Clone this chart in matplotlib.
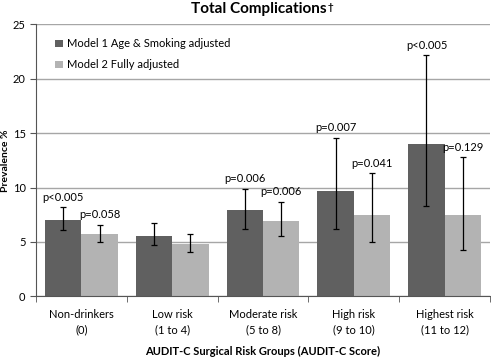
import numpy as np
import matplotlib
matplotlib.use("Agg")
from matplotlib import pyplot as plt

groups = ["Non-drinkers\n(0)", "Low risk\n(1 to 4)", "Moderate risk\n(5 to 8)",
          "High risk\n(9 to 10)", "Highest risk\n(11 to 12)"]
model1 = [7.05, 5.55, 7.9, 9.7, 14.0]
model1_lo = [6.1, 4.7, 6.2, 6.2, 8.3]
model1_hi = [8.2, 6.7, 9.9, 14.6, 22.2]
model2 = [5.7, 4.8, 6.9, 7.45, 7.45]
model2_lo = [5.0, 4.1, 5.5, 5.0, 4.3]
model2_hi = [6.6, 5.7, 8.7, 11.3, 12.8]
p1 = ["p<0.005", "", "p=0.006", "p=0.007", "p<0.005"]
p2 = ["p=0.058", "", "p=0.006", "p=0.041", "p=0.129"]

plt.rcParams["font.family"] = ["Lato", "DejaVu Sans"]

fig = plt.figure(figsize=(4.91, 3.59), dpi=100)
ax = fig.add_axes([0.0733, 0.1747, 0.9247, 0.7573])

x = np.arange(len(groups))
w = 0.4
m1 = np.array(model1)
m2 = np.array(model2)
err1 = [m1 - np.array(model1_lo), np.array(model1_hi) - m1]
err2 = [m2 - np.array(model2_lo), np.array(model2_hi) - m2]

ax.bar(x - w / 2, m1, w, color="#606060", label="Model 1 Age & Smoking adjusted", zorder=2)
ax.bar(x + w / 2, m2, w, color="#b3b3b3", label="Model 2 Fully adjusted", zorder=2)
ax.errorbar(x - w / 2, m1, yerr=err1, fmt="none", ecolor="black", elinewidth=0.9,
            capsize=2.5, capthick=0.9, zorder=3)
ax.errorbar(x + w / 2, m2, yerr=err2, fmt="none", ecolor="black", elinewidth=0.9,
            capsize=2.5, capthick=0.9, zorder=3)

for i in range(len(groups)):
    if p1[i]:
        ax.text(x[i] - w / 2, model1_hi[i] + 0.4, p1[i], ha="center", va="bottom", fontsize=8)
    if p2[i]:
        ax.text(x[i] + w / 2, model2_hi[i] + 0.4, p2[i], ha="center", va="bottom", fontsize=8)

ax.set_xlim(-0.5, len(groups) - 0.5)
ax.set_ylim(0, 25)
ax.set_yticks(range(0, 26, 5))
ax.yaxis.grid(True, color="#a6a6a6", linewidth=1)
ax.set_axisbelow(True)
ax.set_xticks(x)
ax.set_xticklabels(groups, fontsize=8, linespacing=1.5)
ax.set_xticks(np.arange(-0.5, len(groups), 1), minor=True)
ax.tick_params(axis="x", which="major", length=0, pad=9)
ax.tick_params(axis="x", which="minor", length=4, direction="out", color="#555555")
ax.tick_params(axis="y", length=4, labelsize=8, color="#555555")

for s in ["top", "right"]:
    ax.spines[s].set_visible(False)
for s in ["left", "bottom"]:
    ax.spines[s].set_color("#555555")

ax.set_ylabel("Prevalence %", fontsize=7.5, fontweight="bold")
ax.yaxis.set_label_coords(-0.058, 0.5)
ax.set_xlabel("AUDIT-C Surgical Risk Groups (AUDIT-C Score)", fontsize=8,
              fontweight="bold", labelpad=8)

# title with small superscript dagger
title = fig.text(0.528, 0.964, "Total Complications", fontsize=11, fontweight="bold",
                 ha="center", va="baseline")
fig.canvas.draw()
bb = title.get_window_extent().transformed(fig.transFigure.inverted())
fig.text(bb.x1 + 0.002, 0.964 + 0.009, "\u2020", fontsize=7, fontweight="bold",
         ha="left", va="baseline")

ax.legend(loc="upper left", frameon=False, fontsize=8, handlelength=0.7,
          handleheight=0.7, handletextpad=0.4, labelspacing=0.9,
          bbox_to_anchor=(0.02, 0.985))

fig.savefig("out.png", dpi=100)
